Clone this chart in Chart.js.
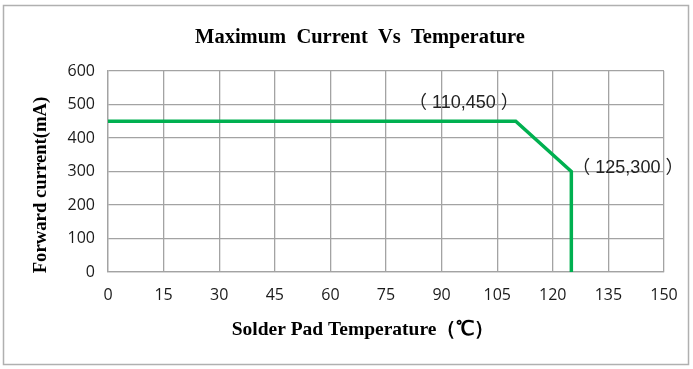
<!DOCTYPE html>
<html lang="en">
<head>
<meta charset="UTF-8">
<title>Maximum Current Vs Temperature</title>
<script src="https://cdn.jsdelivr.net/npm/chart.js"></script>
<style>
  html, body { margin: 0; padding: 0; background: #fff; }
</style>
</head>
<body>
<canvas id="myChart" width="693" height="369"></canvas>
<script>
// derating curve: solder pad temperature (C) vs max forward current (mA)
const temps = [0, 110, 125, 125];
const currents = [450, 450, 300, 0];
const labeledPoints = [1, 2]; // indexes of points that get a "(x,y)" label
const xTicks = [0, 15, 30, 45, 60, 75, 90, 105, 120, 135, 150];
const yTicks = [0, 100, 200, 300, 400, 500, 600];

const serif = '"Liberation Serif", "Times New Roman", serif';
const tickFont = '"Open Sans", "Noto Sans", sans-serif';
const labelFont = '"Liberation Sans", "Noto Sans CJK SC", sans-serif';
const green = 'rgb(0,176,80)';
const gridColor = '#a3a3a3';

// outer frame, titles and point labels
const decor = {
    id: 'decor',
    beforeDraw(chart) {
        const ctx = chart.ctx;
        ctx.save();
        ctx.fillStyle = '#fff';
        ctx.fillRect(0, 0, chart.width, chart.height);
        ctx.strokeStyle = '#b0b0b0';
        ctx.lineWidth = 1.5;
        ctx.strokeRect(3.5, 5.5, 685, 359);
        ctx.restore();
    },
    afterDraw(chart) {
        const ctx = chart.ctx;
        const xs = chart.scales.x, ys = chart.scales.y;
        ctx.save();
        ctx.fillStyle = '#000';
        ctx.textAlign = 'center';
        ctx.textBaseline = 'middle';
        ctx.font = 'bold 20.5px ' + serif;
        ctx.fillText('Maximum  Current  Vs  Temperature', 360, 38);

        ctx.font = 'bold 19.5px ' + serif;
        ctx.fillText('Solder Pad Temperature（℃）', 363, 330);

        ctx.save();
        ctx.translate(41, 185);
        ctx.rotate(-Math.PI / 2);
        ctx.font = 'bold 18.7px ' + serif;
        ctx.fillText('Forward current(mA)', 0, 0);
        ctx.restore();

        ctx.font = '18px ' + labelFont;
        ctx.fillStyle = '#222';
        labeledPoints.forEach((i, k) => {
            const px = xs.getPixelForValue(temps[i]);
            const py = ys.getPixelForValue(currents[i]);
            const txt = '（ ' + temps[i] + ',' + currents[i] + ' ）';
            if (k === 0) {
                ctx.textAlign = 'right';
                ctx.fillText(txt, px + 3, py - 18);
            } else {
                ctx.textAlign = 'left';
                ctx.fillText(txt, px + 1, py - 3);
            }
        });
        ctx.restore();
    }
};

const data = {
    datasets: [{
        data: temps.map((t, i) => ({ x: t, y: currents[i] })),
        borderColor: green,
        borderWidth: 3.5,
        pointRadius: 0,
        fill: false,
        tension: 0
    }]
};

const config = {
    type: 'line',
    data: data,
    options: {
        responsive: false,
        animation: false,
        layout: { padding: { left: 0, right: 29, top: 71, bottom: 0 } },
        plugins: {
            legend: { display: false },
            tooltip: { enabled: false },
            title: { display: false }
        },
        scales: {
            x: {
                type: 'linear',
                min: 0,
                max: 150,
                afterBuildTicks: s => { s.ticks = xTicks.map(v => ({ value: v })); },
                afterFit: s => { s.height = 97; },
                grid: { color: gridColor, lineWidth: 1.3, drawTicks: false },
                border: { color: gridColor, width: 1.3 },
                ticks: { color: '#1a1a1a', font: { family: tickFont, size: 16 }, padding: 14, maxRotation: 0 }
            },
            y: {
                min: 0,
                max: 600,
                afterBuildTicks: s => { s.ticks = yTicks.map(v => ({ value: v })); },
                afterFit: s => { s.width = 108; },
                grid: { color: gridColor, lineWidth: 1.3, drawTicks: false },
                border: { color: gridColor, width: 1.3 },
                ticks: { color: '#1a1a1a', font: { family: tickFont, size: 16 }, padding: 13 }
            }
        }
    },
    plugins: [decor]
};

const ctx = document.getElementById('myChart').getContext('2d');
const myChart = new Chart(ctx, config);
</script>
</body>
</html>
